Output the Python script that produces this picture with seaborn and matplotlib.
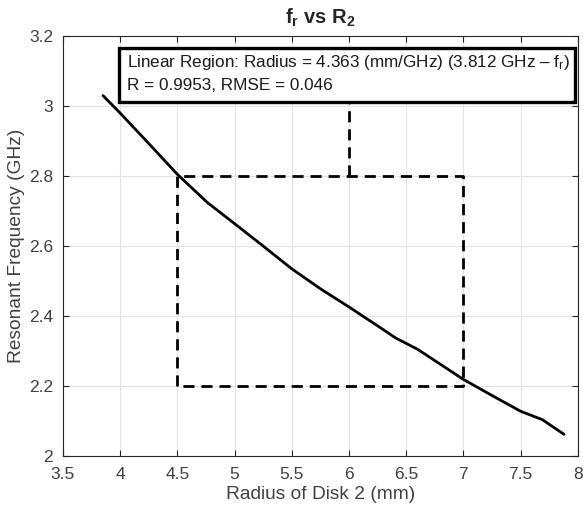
import numpy as np
import pandas as pd
import seaborn as sns
import matplotlib.pyplot as plt
from matplotlib.patches import Rectangle
from matplotlib.ticker import FormatStrFormatter

sns.set_theme( style="whitegrid" )
plt.rcParams[ "font.family" ] = [ "Liberation Sans", "DejaVu Sans" ]
plt.rcParams[ "mathtext.fontset" ] = "custom"
plt.rcParams[ "mathtext.rm" ] = "Liberation Sans"
plt.rcParams[ "mathtext.bf" ] = "Liberation Sans:bold"
plt.rcParams[ "mathtext.it" ] = "Liberation Sans:italic"

## --- Data
radius = [ 3.85, 4.0, 4.25, 4.5, 4.76, 5.0, 5.25, 5.5, 5.75, 6.0,
           6.25, 6.41, 6.6, 6.8, 7.0, 7.25, 7.5, 7.69, 7.88 ]
freq = [ 3.03, 2.98, 2.893, 2.805, 2.725, 2.664, 2.600, 2.535, 2.478, 2.426,
         2.372, 2.337, 2.305, 2.262, 2.219, 2.173, 2.128, 2.104, 2.062 ]

box_x = [ 4.5, 4.5, 7.0, 7.0, 4.5 ]
box_y = [ 2.2, 2.8, 2.8, 2.2, 2.2 ]
lead_x = [ 6.0, 6.0 ]
lead_y = [ 2.8, 3.02 ]

x_ticks = [ 3.5, 4, 4.5, 5, 5.5, 6, 6.5, 7, 7.5, 8 ]
y_ticks = [ 2, 2.2, 2.4, 2.6, 2.8, 3, 3.2 ]
## ---

df = pd.DataFrame( { "radius": radius, "freq": freq } )

fig = plt.figure( figsize=(5.83, 5.14), dpi=100 )
ax = fig.add_axes( [ 0.108, 0.1128, 0.883, 0.817 ] )

sns.lineplot( data=df, x="radius", y="freq", color="black", linewidth=2, ax=ax )
ax.plot( box_x, box_y, color="black", linestyle=(0, (4, 2.5)), linewidth=2 )
ax.plot( lead_x, lead_y, color="black", linestyle=(0, (4, 2.5)), linewidth=2 )

ax.set_xlim( 3.5, 8 )
ax.set_ylim( 2, 3.2 )
ax.set_xticks( x_ticks )
ax.set_yticks( y_ticks )
ax.xaxis.set_major_formatter( FormatStrFormatter( "%g" ) )
ax.yaxis.set_major_formatter( FormatStrFormatter( "%g" ) )
ax.tick_params( direction="in", length=4, width=0.8, colors="#262626",
                labelsize=12.5, top=True, right=True, bottom=True, left=True )
ax.tick_params( axis="x", pad=8 )
ax.tick_params( axis="y", pad=7 )
ax.tick_params( labelcolor="#404040" )
ax.grid( True, color="#e3e3e3", linewidth=0.8 )
for sp in ax.spines.values():
    sp.set_color( "#262626" )
    sp.set_linewidth( 0.8 )
ax.set_facecolor( "white" )

ax.set_xlabel( "Radius of Disk 2 (mm)", fontsize=13.8, color="#404040", labelpad=3 )
ax.set_ylabel( "Resonant Frequency (GHz)", fontsize=13.8, color="#404040", labelpad=3 )
ax.set_title( r"$\mathbf{f_r}$ vs $\mathbf{R_2}$", fontsize=14.5, fontweight="bold",
              color="#262626", pad=9 )

# annotation box
ax.add_patch( Rectangle( (0.109, 0.843), 0.885, 0.129, transform=ax.transAxes,
                         facecolor="white", edgecolor="black", linewidth=2.4, zorder=5 ) )
ax.text( 0.124, 0.936, r"Linear Region: Radius = 4.363 (mm/GHz) (3.812 GHz – $\mathrm{f_r}$)",
         transform=ax.transAxes, fontsize=12.3, va="center", ha="left", color="#1a1a1a", zorder=6 )
ax.text( 0.124, 0.883, "R = 0.9953, RMSE = 0.046",
         transform=ax.transAxes, fontsize=12.3, va="center", ha="left", color="#1a1a1a", zorder=6 )

fig.savefig( "out.png", dpi=100 )
